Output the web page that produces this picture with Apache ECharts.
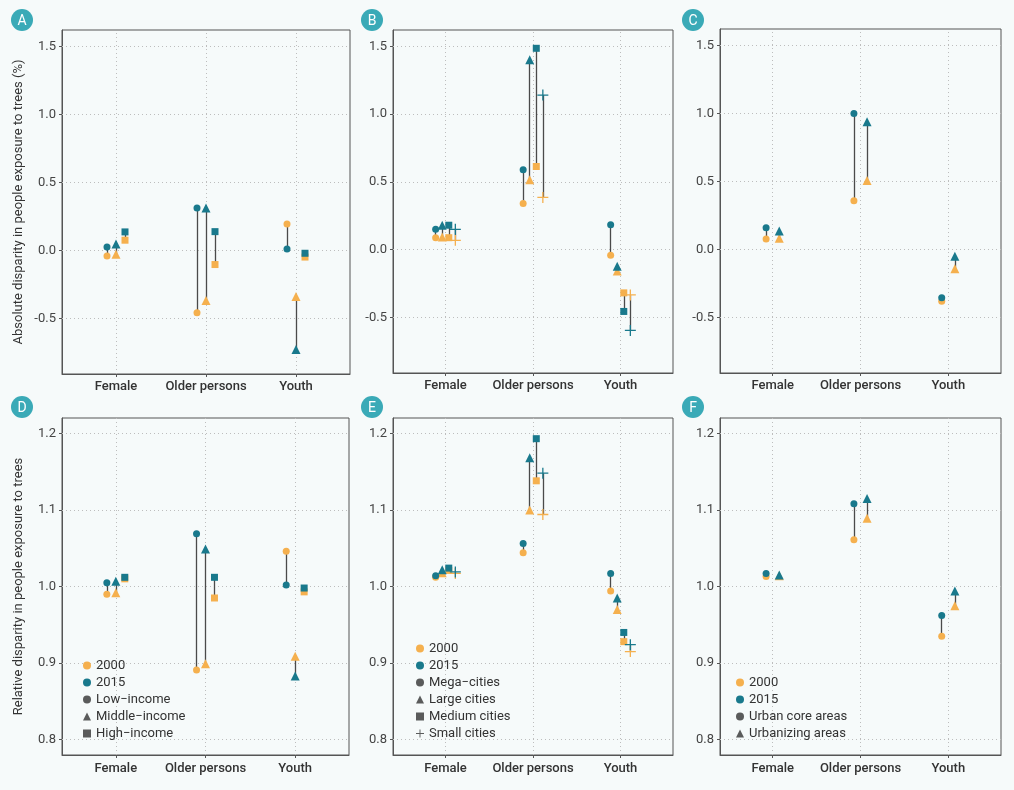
<!DOCTYPE html>
<html style="height: 100%">
<head>
    <meta charset="utf-8">
    <script src="https://cdn.jsdelivr.net/npm/echarts@6/dist/echarts.min.js"></script>
</head>
<body style="height:100%;margin:0;background:#f6fafa">
    <div id="main" style="width:1014px;height:790px;"></div>
    <script type="text/javascript">

        // categories and groups
        var categories = ['Female', 'Older persons', 'Youth'];
        var incomeGroups = ['Low\u2212income', 'Middle\u2212income', 'High\u2212income'];
        var citySizes = ['Mega\u2212cities', 'Large cities', 'Medium cities', 'Small cities'];
        var urbanTypes = ['Urban core areas', 'Urbanizing areas'];
        var years = ['2000', '2015'];
        var absTicks = [-0.5, 0, 0.5, 1, 1.5];
        var relTicks = [0.8, 0.9, 1.0, 1.1, 1.2];

        // values: [category][group]
        var absIncome2000 = [[-0.042, -0.03, 0.074], [-0.46, -0.37, -0.105], [0.194, -0.34, -0.05]];
        var absIncome2015 = [[0.024, 0.046, 0.135], [0.31, 0.31, 0.137], [0.01, -0.73, -0.022]];
        var absCity2000 = [[0.088, 0.093, 0.088, 0.069], [0.34, 0.515, 0.613, 0.385], [-0.042, -0.157, -0.319, -0.334]];
        var absCity2015 = [[0.15, 0.18, 0.18, 0.15], [0.59, 1.40, 1.485, 1.14], [0.184, -0.123, -0.456, -0.596]];
        var absUrban2000 = [[0.076, 0.081], [0.357, 0.505], [-0.383, -0.144]];
        var absUrban2015 = [[0.159, 0.134], [0.999, 0.938], [-0.357, -0.051]];
        var relIncome2000 = [[0.990, 0.992, 1.010], [0.891, 0.899, 0.985], [1.046, 0.909, 0.993]];
        var relIncome2015 = [[1.005, 1.007, 1.012], [1.069, 1.049, 1.012], [1.002, 0.883, 0.998]];
        var relCity2000 = [[1.012, 1.018, 1.021, 1.017], [1.044, 1.100, 1.138, 1.094], [0.994, 0.970, 0.928, 0.915]];
        var relCity2015 = [[1.014, 1.022, 1.024, 1.019], [1.056, 1.168, 1.193, 1.148], [1.017, 0.985, 0.940, 0.924]];
        var relUrban2000 = [[1.013, 1.014], [1.061, 1.089], [0.935, 0.975]];
        var relUrban2015 = [[1.017, 1.015], [1.108, 1.115], [0.962, 0.994]];

        var ORANGE = '#f5b04e', TEAL = '#19798c', DARK = '#333';
        var PLUS = 'path://M5.3,0H6.7V5.3H12V6.7H6.7V12H5.3V6.7H0V5.3H5.3Z';
        var SYM = ['circle', 'triangle', 'rect', PLUS];
        var SIZE = [7, 9, 7, 11];

        var panels = [
            {key: 'A', groups: incomeGroups, v0: absIncome2000, v1: absIncome2015, ticks: absTicks, min: -0.91, max: 1.62,
             name: 'Absolute disparity in people exposure to trees (%)'},
            {key: 'B', groups: citySizes, v0: absCity2000, v1: absCity2015, ticks: absTicks, min: -0.91, max: 1.62},
            {key: 'C', groups: urbanTypes, v0: absUrban2000, v1: absUrban2015, ticks: absTicks, min: -0.91, max: 1.62},
            {key: 'D', groups: incomeGroups, v0: relIncome2000, v1: relIncome2015, ticks: relTicks, min: 0.78, max: 1.22,
             name: 'Relative disparity in people exposure to trees', legend: 78},
            {key: 'E', groups: citySizes, v0: relCity2000, v1: relCity2015, ticks: relTicks, min: 0.78, max: 1.22, legend: 411},
            {key: 'F', groups: urbanTypes, v0: relUrban2000, v1: relUrban2015, ticks: relTicks, min: 0.78, max: 1.22, legend: 731}
        ];
        // grid boxes [left, top, width, height]
        var boxes = [
            [62, 30, 288, 344], [393, 30, 280, 343], [720, 29, 281, 344],
            [62, 418, 287, 337], [393, 418, 280, 337], [720, 418, 281, 337]
        ];
        var badges = [[22, 20], [372, 20], [693, 20], [22, 407], [372, 407], [693, 407]];

        var grid = [], xAxis = [], yAxis = [], series = [], legend = [], graphic = [];

        panels.forEach(function (p, i) {
            var b = boxes[i];
            var n = p.groups.length;
            grid.push({left: b[0], top: b[1], width: b[2], height: b[3], show: true,
                borderColor: '#555', borderWidth: 1});
            xAxis.push({
                gridIndex: i, type: 'value', min: 0.4, max: 3.6,
                splitLine: {show: false},
                axisLine: {show: true, onZero: false, lineStyle: {color: '#555'}},
                axisTick: {show: true, customValues: [1, 2, 3], length: 3, lineStyle: {color: '#555'}},
                axisLabel: {customValues: [1, 2, 3], margin: i < 3 ? 6 : 7,
                    formatter: function (v) { return categories[Math.round(v) - 1] || ''; },
                    color: '#333', fontSize: 13, fontWeight: 500, fontFamily: 'Roboto'}
            });
            yAxis.push({
                gridIndex: i, type: 'value', min: p.min, max: p.max,
                splitLine: {show: false},
                axisLine: {show: true, onZero: false, lineStyle: {color: '#555'}},
                axisTick: {show: true, customValues: p.ticks, length: 3, lineStyle: {color: '#555'}},
                axisLabel: {customValues: p.ticks, margin: 6,
                    formatter: function (v) { return v.toFixed(1); },
                    color: '#444', fontSize: 13, fontFamily: 'Roboto'},
                name: p.name || '', nameLocation: 'middle', nameGap: 37,
                nameTextStyle: {color: '#333', fontSize: 13, fontFamily: 'Roboto'}
            });

            // dotted grid lines, kept below the segments
            series.push({
                type: 'scatter', xAxisIndex: i, yAxisIndex: i, data: [], silent: true, z: 1,
                markLine: {
                    z: 1, silent: true, symbol: ['none', 'none'], label: {show: false},
                    lineStyle: {type: [1, 3], color: '#bdbdbd', width: 1},
                    emphasis: {disabled: true},
                    data: [1, 2, 3].map(function (c) { return {xAxis: c}; })
                        .concat(p.ticks.map(function (t) { return {yAxis: t}; }))
                }
            });

            var seg = [], pts0 = [], pts1 = [];
            categories.forEach(function (c, ci) {
                p.groups.forEach(function (g, gi) {
                    var x = ci + 1 + (gi - (n - 1) / 2) * (0.3 / n);
                    var y0 = p.v0[ci][gi], y1 = p.v1[ci][gi];
                    seg.push({coords: [[x, y0], [x, y1]]});
                    pts0.push({value: [x, y0], symbol: SYM[gi], symbolSize: SIZE[gi]});
                    pts1.push({value: [x, y1], symbol: SYM[gi], symbolSize: SIZE[gi]});
                });
            });
            series.push({
                type: 'lines', coordinateSystem: 'cartesian2d', xAxisIndex: i, yAxisIndex: i,
                data: seg, silent: true, z: 6,
                lineStyle: {color: '#4a4a4a', width: 1.3, opacity: 1}
            });
            series.push({name: years[0], type: 'scatter', xAxisIndex: i, yAxisIndex: i, z: 7,
                data: pts0, itemStyle: {color: ORANGE, opacity: 1}});
            series.push({name: years[1], type: 'scatter', xAxisIndex: i, yAxisIndex: i, z: 8,
                data: pts1, itemStyle: {color: TEAL, opacity: 1}});

            if (p.legend) {
                p.groups.forEach(function (g, gi) {
                    series.push({name: g, type: 'scatter', xAxisIndex: i, yAxisIndex: i, data: [],
                        symbol: SYM[gi], itemStyle: {color: DARK}});
                });
                legend.push({
                    orient: 'vertical', left: p.legend, bottom: 45,
                    itemWidth: 8, itemHeight: 8, itemGap: 4, selectedMode: false,
                    textStyle: {fontSize: 13, color: '#333', fontFamily: 'Roboto'},
                    data: [{name: years[0], icon: 'circle'}, {name: years[1], icon: 'circle'}]
                        .concat(p.groups.map(function (g, gi) { return {name: g, icon: SYM[gi]}; }))
                });
            }

            graphic.push({type: 'circle', shape: {cx: badges[i][0], cy: badges[i][1], r: 11},
                style: {fill: '#3aaab7'}, silent: true});
            graphic.push({type: 'text', x: badges[i][0], y: badges[i][1] + 1, silent: true,
                style: {text: p.key, fill: '#fff', fontSize: 14, fontFamily: 'Roboto',
                    align: 'center', verticalAlign: 'middle'}});
        });

        var myChart = echarts.init(document.getElementById('main'));
        myChart.setOption({
            backgroundColor: '#f6fafa',
            animation: false,
            textStyle: {fontFamily: 'Roboto'},
            grid: grid,
            xAxis: xAxis,
            yAxis: yAxis,
            legend: legend,
            graphic: graphic,
            series: series
        });
    </script>
</body>
</html>
